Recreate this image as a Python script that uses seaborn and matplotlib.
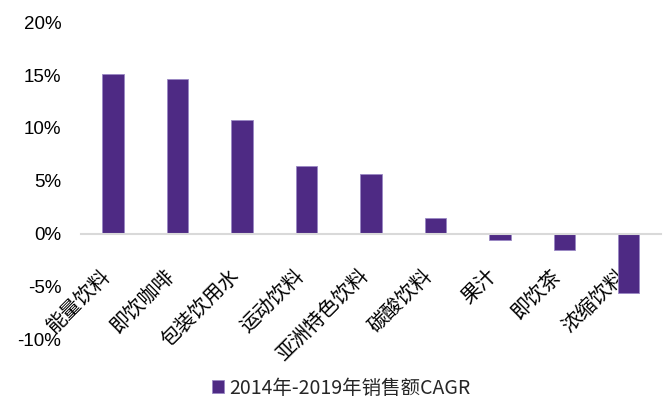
import matplotlib
matplotlib.use('Agg')
import matplotlib.pyplot as plt
import matplotlib.transforms as mtransforms
import seaborn as sns
import pandas as pd

categories = ["能量饮料", "即饮咖啡", "包装饮用水", "运动饮料", "亚洲特色饮料",
              "碳酸饮料", "果汁", "即饮茶", "浓缩饮料"]
values = [15.1, 14.6, 10.8, 6.4, 5.7, 1.5, -0.6, -1.5, -5.6]
series_name = "2014年-2019年销售额CAGR"
yticks = [-10, -5, 0, 5, 10, 15, 20]
ytick_labels = ["-10%", "-5%", "0%", "5%", "10%", "15%", "20%"]

df = pd.DataFrame({"category": categories, "value": values, "series": series_name})

sns.set_theme(style="white")
plt.rcParams['font.family'] = ['Liberation Sans', 'Noto Sans CJK SC']

fig = plt.figure(figsize=(6.63, 4.08), dpi=100)
ax = fig.add_axes([0.122, 0.167, 0.875, 0.779])

sns.barplot(data=df, x="category", y="value", hue="series", palette=["#4E2A84"],
            width=0.33, saturation=1, edgecolor="#9A88C4", linewidth=0.6, ax=ax)

ax.set_ylim(-10, 20)
ax.set_xlim(-0.5, len(categories) - 0.5)
ax.set_yticks(yticks)
ax.set_yticklabels(ytick_labels, fontsize=13.5, color="black")
ax.set_xlabel("")
ax.set_ylabel("")

for s in ["top", "right", "left"]:
    ax.spines[s].set_visible(False)
ax.spines["bottom"].set_position(("data", 0))
ax.spines["bottom"].set_color("#D9D9D9")
ax.spines["bottom"].set_linewidth(1.5)

ax.tick_params(axis="y", length=0, pad=14)
ax.tick_params(axis="x", length=0, pad=20)
ax.set_xticks(range(len(categories)))
ax.set_xticklabels(categories, rotation=45, ha="right", va="center",
                   rotation_mode="anchor", fontsize=14.5,
                   family=["Noto Sans CJK SC"], color="black")
offset = mtransforms.ScaledTranslation(-6 / 100, -11 / 100, fig.dpi_scale_trans)
for lab in ax.get_xticklabels():
    lab.set_transform(lab.get_transform() + offset)

handles, labels = ax.get_legend_handles_labels()
if ax.legend_ is not None:
    ax.legend_.remove()
fig.legend(handles, labels, loc="center", bbox_to_anchor=(0.515, 0.049),
           frameon=False, handlelength=0.6, handleheight=0.6,
           handletextpad=0.3, prop={"family": ["Noto Sans CJK SC"], "size": 14})

fig.savefig("out.png", dpi=100)
